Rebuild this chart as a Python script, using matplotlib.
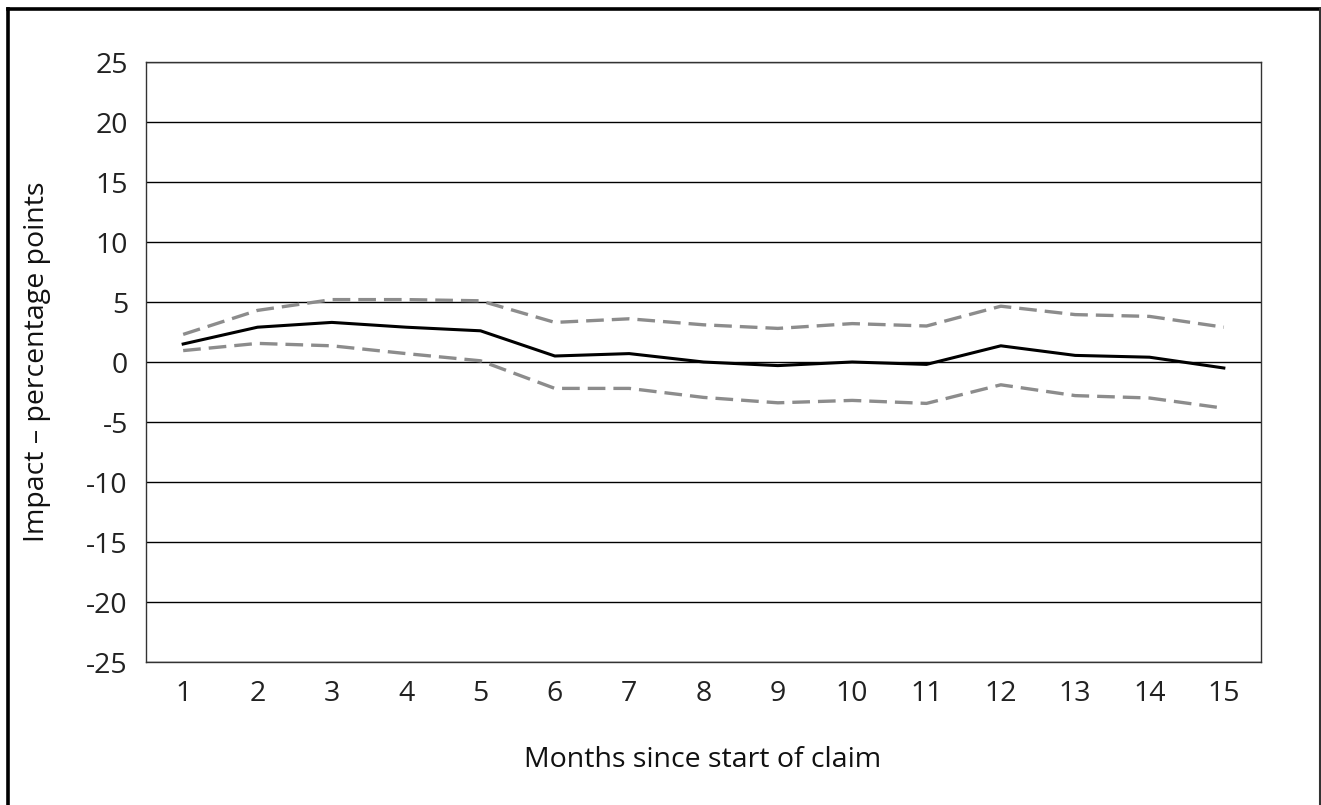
import matplotlib
matplotlib.use("Agg")
import matplotlib.pyplot as plt
from matplotlib.lines import Line2D

months = [str(m) for m in range(1, 16)]
impact = [1.5, 2.9, 3.3, 2.9, 2.6, 0.5, 0.7, 0.0, -0.3, 0.0, -0.2, 1.35, 0.55, 0.4, -0.5]
upper = [2.3, 4.3, 5.2, 5.2, 5.1, 3.3, 3.6, 3.1, 2.8, 3.2, 3.0, 4.65, 3.95, 3.8, 2.9]
lower = [0.95, 1.55, 1.35, 0.7, 0.1, -2.2, -2.2, -2.95, -3.4, -3.2, -3.45, -1.9, -2.8, -3.0, -3.85]
yticks = list(range(-25, 30, 5))

plt.rcParams['font.family'] = ['Open Sans', 'DejaVu Sans']

W, H = 1321, 805
FS = 20.5
fig = plt.figure(figsize=(W / 100, H / 100), dpi=100)
ax = fig.add_axes([146 / W, 1 - 662 / H, (1261 - 146) / W, 600 / H])

x = list(range(len(months)))
ax.plot(x, upper, color='#8c8c8c', lw=2.4, dashes=(5.3, 2.4))
ax.plot(x, lower, color='#8c8c8c', lw=2.4, dashes=(5.3, 2.4))
ax.plot(x, impact, color='black', lw=2.2)

ax.set_xlim(-0.5, len(months) - 0.5)
ax.set_ylim(-25, 25)
ax.set_yticks(yticks)
ax.set_yticklabels([str(t) for t in yticks])
ax.set_xticks(x)
ax.set_xticklabels(months)
ax.tick_params(axis='both', length=0, labelsize=FS, colors='#222222')
ax.tick_params(axis='y', pad=13)
ax.tick_params(axis='x', pad=13)
ax.yaxis.grid(True, color='black', lw=1.0)
ax.set_axisbelow(True)
for s in ax.spines.values():
    s.set_color('#333333')
    s.set_linewidth(1.0)

ax.set_ylabel('Impact – percentage points', fontsize=FS, color='#111111')
ax.yaxis.set_label_coords((51 - 146) / 1115, 0.5)
fig.text(703 / W, 1 - 760 / H, 'Months since start of claim', fontsize=FS,
         ha='center', va='center', color='#111111')

# outer frame
fig.add_artist(Line2D([8 / W, 8 / W], [0, 1 - 9 / H], transform=fig.transFigure, color='black', lw=2.6))
fig.add_artist(Line2D([8 / W, 1320 / W], [1 - 9 / H, 1 - 9 / H], transform=fig.transFigure, color='black', lw=2.6))
fig.add_artist(Line2D([1320 / W, 1320 / W], [0, 1 - 9 / H], transform=fig.transFigure, color='#333333', lw=1.5))

fig.savefig('out.png', dpi=100)
